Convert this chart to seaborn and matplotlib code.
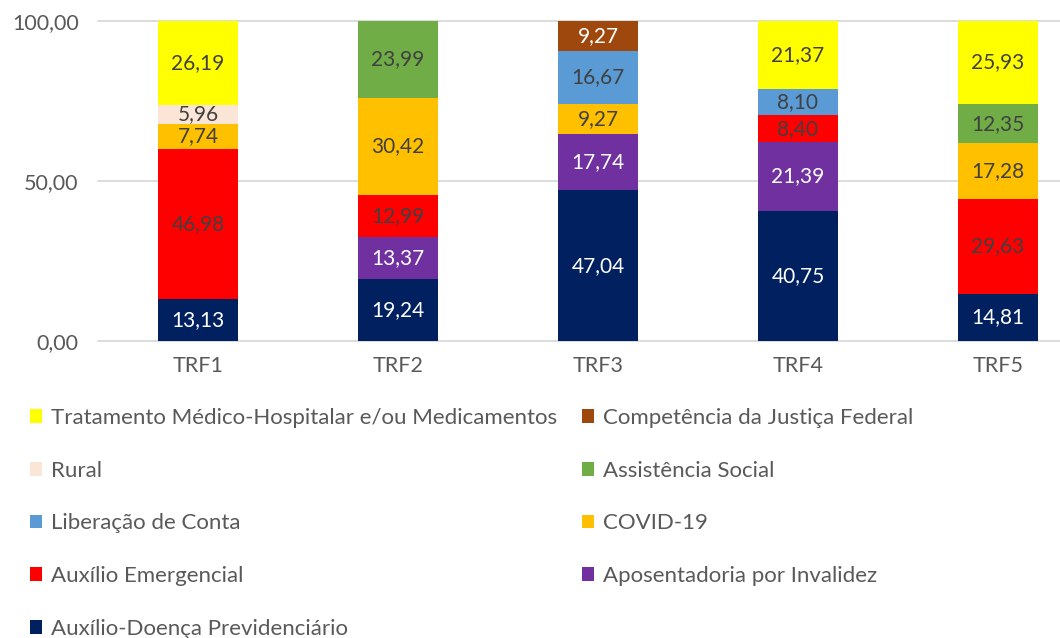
import numpy as np
import pandas as pd
import matplotlib
matplotlib.use("Agg")
import matplotlib.pyplot as plt
from matplotlib.patches import Patch
from matplotlib.ticker import FuncFormatter
import seaborn as sns

# ── data (stacking order, bottom → top) ─────────────────────────
tribunais = ["TRF1", "TRF2", "TRF3", "TRF4", "TRF5"]

series_names = [
    "Auxílio-Doença Previdenciário",
    "Aposentadoria por Invalidez",
    "Auxílio Emergencial",
    "COVID-19",
    "Liberação de Conta",
    "Assistência Social",
    "Rural",
    "Competência da Justiça Federal",
    "Tratamento Médico-Hospitalar e/ou Medicamentos",
]

aux_doenca    = [13.13, 19.24, 47.04, 40.75, 14.81]
aposentadoria = [0.00, 13.37, 17.74, 21.39, 0.00]
aux_emerg     = [46.98, 12.99, 0.00, 8.40, 29.63]
covid         = [7.74, 30.42, 9.27, 0.00, 17.28]
liberacao     = [0.00, 0.00, 16.67, 8.10, 0.00]
assistencia   = [0.00, 23.99, 0.00, 0.00, 12.35]
rural         = [5.96, 0.00, 0.00, 0.00, 0.00]
competencia   = [0.00, 0.00, 9.27, 0.00, 0.00]
tratamento    = [26.19, 0.00, 0.00, 21.37, 25.93]

series_values = [aux_doenca, aposentadoria, aux_emerg, covid, liberacao,
                 assistencia, rural, competencia, tratamento]

colors = ["#002060", "#7030A0", "#FF0000", "#FFC000", "#5B9BD5",
          "#70AD47", "#FBE5D6", "#9E480E", "#FFFF00"]
label_colors = ["white", "white", "#404040", "#404040", "#404040",
                "#404040", "#404040", "white", "#404040"]

# ── figure ──────────────────────────────────────────────────────
sns.set_theme(style="white")
plt.rcParams["font.family"] = ["Lato", "DejaVu Sans"]

fig = plt.figure(figsize=(10.6, 6.38), dpi=100)
ax = fig.add_axes([98 / 1060, 1 - 341 / 638, 1000 / 1060, 320 / 638])

vals = np.array(series_values)
cum = vals.cumsum(axis=0)

# overlay cumulative bars from top to bottom -> stacked look
for k in range(len(series_names) - 1, -1, -1):
    df = pd.DataFrame({"trf": tribunais, "total": cum[k]})
    sns.barplot(data=df, x="trf", y="total", color=colors[k], width=0.4,
                saturation=1, linewidth=0, ax=ax)

# data labels
for k in range(len(series_names)):
    bottom = cum[k] - vals[k]
    for i, v in enumerate(vals[k]):
        if v <= 0:
            continue
        ax.text(i, bottom[i] + v / 2, f"{v:.2f}".replace(".", ","),
                ha="center", va="center", fontsize=15, color=label_colors[k])

ax.set_ylim(0, 100)
ax.set_xlim(-0.5, 4.5)
ax.set_yticks([0, 50, 100])
ax.yaxis.set_major_formatter(FuncFormatter(lambda y, _: f"{y:.2f}".replace(".", ",")))
ax.set_xlabel("")
ax.set_ylabel("")
for sp in ax.spines.values():
    sp.set_visible(False)
ax.grid(axis="y", color="#D9D9D9", linewidth=1.3, zorder=0)
ax.set_axisbelow(True)
for gl in ax.yaxis.get_gridlines():
    gl.set_clip_on(False)
ax.tick_params(axis="y", length=0, pad=14, labelsize=15.5, labelcolor="#595959")
ax.tick_params(axis="x", length=0, pad=11, labelsize=15.5, labelcolor="#595959")

# legend: two columns, filled row by row in reverse stacking order
rev = list(range(len(series_names) - 1, -1, -1))
order = rev[0::2] + rev[1::2]
handles = [Patch(facecolor=colors[k], edgecolor="none", label=series_names[k]) for k in order]
fig.legend(handles=handles, ncol=2, loc="upper left",
           bbox_to_anchor=(30 / 1060, 1 - 408 / 638), frameon=False,
           fontsize=16, labelcolor="#595959", handlelength=0.55, handleheight=0.55,
           handletextpad=0.4, labelspacing=1.47, columnspacing=1.1,
           borderaxespad=0, borderpad=0)

fig.savefig("out.png", dpi=100)
